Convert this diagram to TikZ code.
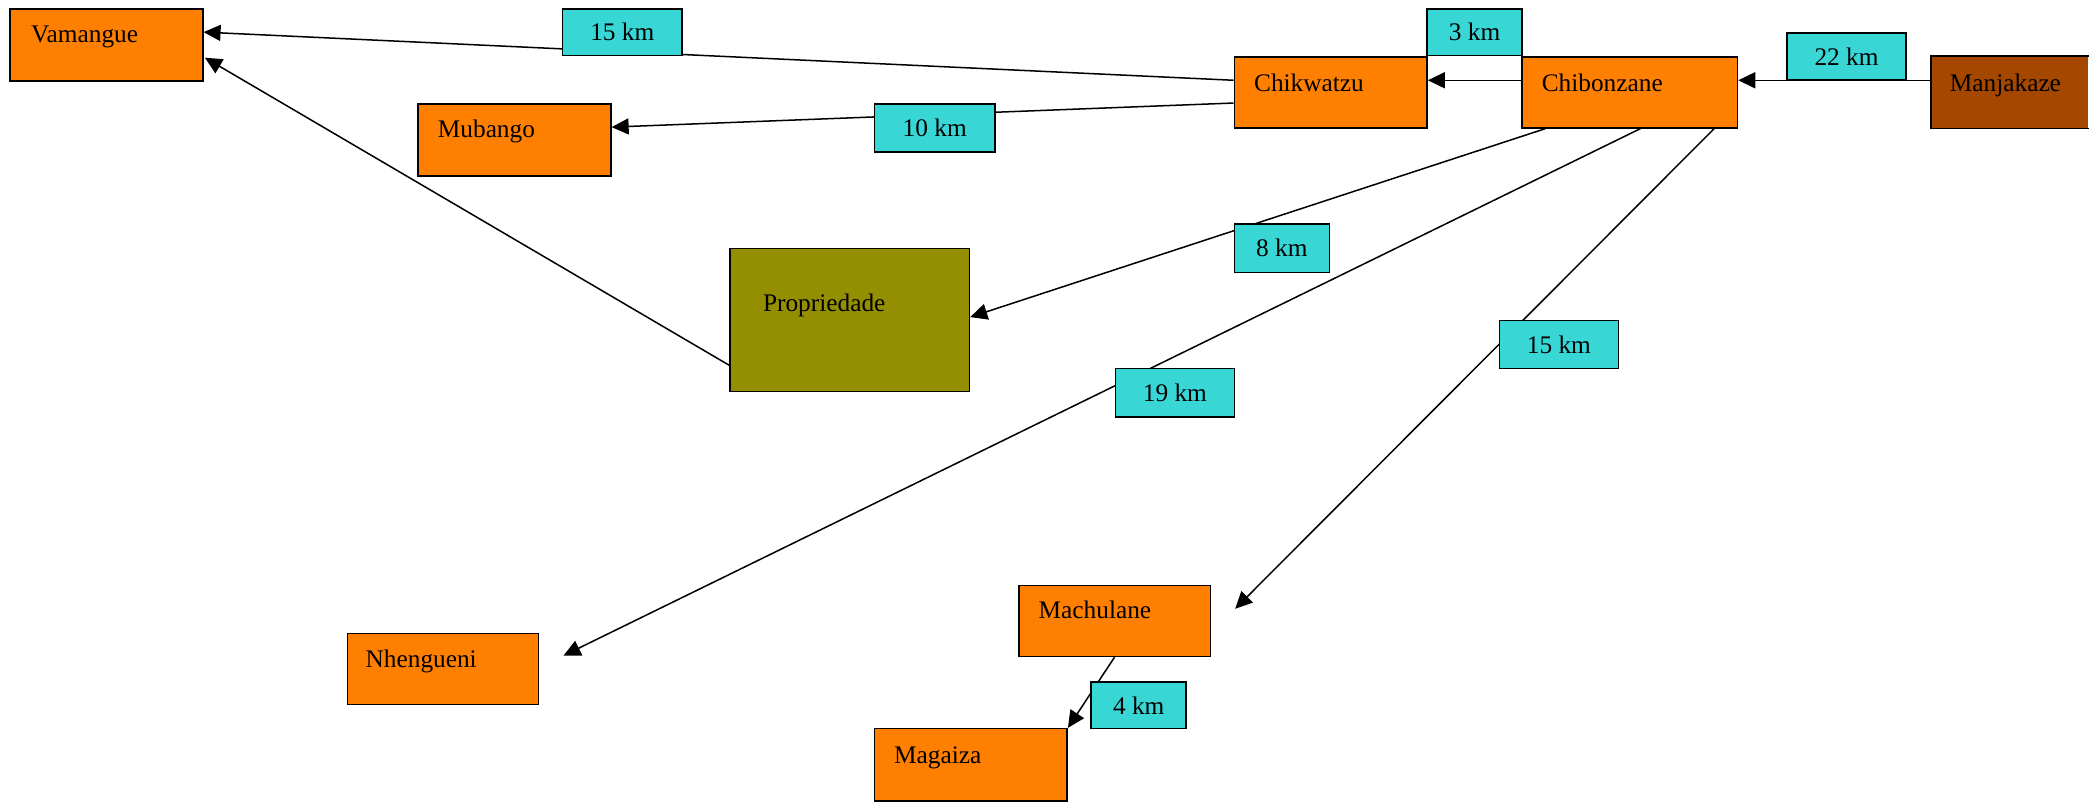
\documentclass[tikz,border=0pt]{standalone}
\usepackage{fontspec}
\setmainfont{Liberation Serif}
\usetikzlibrary{arrows.meta,calc}
\definecolor{orng}{RGB}{255,127,0}
\definecolor{cyanlbl}{RGB}{57,214,214}
\definecolor{brownbox}{RGB}{166,71,0}
\definecolor{olivebox}{RGB}{148,143,0}
\tikzset{
  place/.style={draw=black,line width=0.8pt,fill=orng,rectangle,inner sep=0pt,anchor=north west},
  txt/.style={anchor=base west,inner sep=0pt,font=\fontsize{13.4}{15}\selectfont},
  lbl/.style={draw=black,line width=0.8pt,fill=cyanlbl,rectangle,inner sep=0pt,anchor=north west,font=\fontsize{13.4}{15}\selectfont},
  edge/.style={draw=black,line width=0.8pt,-{Triangle[length=9pt,width=8.5pt]}}
}
\begin{document}
\begin{tikzpicture}[x=0.708pt,y=-0.708pt]
\useasboundingbox (0,0) rectangle (1568,599);
% places
\node[place,minimum width=144*0.708pt,minimum height=54*0.708pt] (vam) at (7,6) {};
\node[place,minimum width=144*0.708pt,minimum height=54*0.708pt] (mub) at (312,77) {};
\node[place,minimum width=144*0.708pt,minimum height=53*0.708pt] (chik) at (922,42) {};
\node[place,minimum width=161*0.708pt,minimum height=53*0.708pt] (chib) at (1137,42) {};
\node[place,draw=none,fill=brownbox,minimum width=117*0.708pt,minimum height=53*0.708pt] (manj) at (1443,42) {};
\draw[line width=0.8pt] (manj.north east) -- (manj.north west) -- (manj.south west) -- (manj.south east);
\node[place,fill=olivebox,minimum width=179*0.708pt,minimum height=107*0.708pt] (prop) at (545,185) {};
\node[place,minimum width=143*0.708pt,minimum height=53*0.708pt] (mach) at (761,437) {};
\node[place,minimum width=143*0.708pt,minimum height=53*0.708pt] (nhen) at (259,473) {};
\node[place,minimum width=144*0.708pt,minimum height=54*0.708pt] (mag) at (653,544) {};
% texts
\node[txt] (vamT) at (23,31.5) {Vamangue};
\node[txt] (mubT) at (327,103) {Mubango};
\node[txt] (chikT) at (937,68.5) {Chikwatzu};
\node[txt] (chibT) at (1152,68.5) {Chibonzane};
\node[txt] (manjT) at (1457,68.5) {Manjakaze};
\node[txt] (propT) at (570,232.5) {Propriedade};
\node[txt] (machT) at (776,462.5) {Machulane};
\node[txt] (nhenT) at (273,498.5) {Nhengueni};
\node[txt] (magT) at (668,570.5) {Magaiza};
% free arrow ends
\coordinate (nhenTip) at ($(nhen.north east)+(18,17)$);
\coordinate (machTip) at ($(mach.north east)+(18,18)$);
% edges
\draw[edge] ($(chik.north west)+(0,18)$) -- ($(vam.north east)+(0,18)$);
\draw[edge] ($(chik.north west)+(0,35)$) -- ($(mub.north east)+(0,18)$);
\draw[edge] ($(chib.north west)+(0,18)$) -- ($(chik.north east)+(0,18)$);
\draw[edge] ($(manj.north west)+(0,18)$) -- ($(chib.north east)+(0,18)$);
\draw[edge] ($(chib.south west)+(18,0)$) -- ($(prop.north east)+(0,52)$);
\draw[edge] ($(chib.south west)+(89,0)$) -- (nhenTip);
\draw[edge] ($(chib.south east)+(-18,0)$) -- (machTip);
\draw[edge] ($(prop.north west)+(0,88)$) -- ($(vam.south east)+(1,-18)$);
\draw[edge] ($(mach.south west)+(72,0)$) -- (mag.north east);
% edge labels
\node[lbl,minimum width=89*0.708pt,minimum height=35*0.708pt] (l15a) at (420,6) {15 km};
\node[lbl,minimum width=90*0.708pt,minimum height=36*0.708pt] (l10) at (653,77) {10 km};
\node[lbl,minimum width=71*0.708pt,minimum height=35*0.708pt] (l3) at (1066,6) {3 km};
\node[lbl,minimum width=89*0.708pt,minimum height=35*0.708pt] (l22) at (1335,24) {22 km};
\node[lbl,minimum width=71*0.708pt,minimum height=36*0.708pt] (l8) at (922,167) {8 km};
\node[lbl,minimum width=89*0.708pt,minimum height=36*0.708pt] (l15b) at (1120,239) {15 km};
\node[lbl,minimum width=89*0.708pt,minimum height=36*0.708pt] (l19) at (833,275) {19 km};
\node[lbl,minimum width=71*0.708pt,minimum height=35*0.708pt] (l4) at (815,509) {4 km};
\end{tikzpicture}
\end{document}
